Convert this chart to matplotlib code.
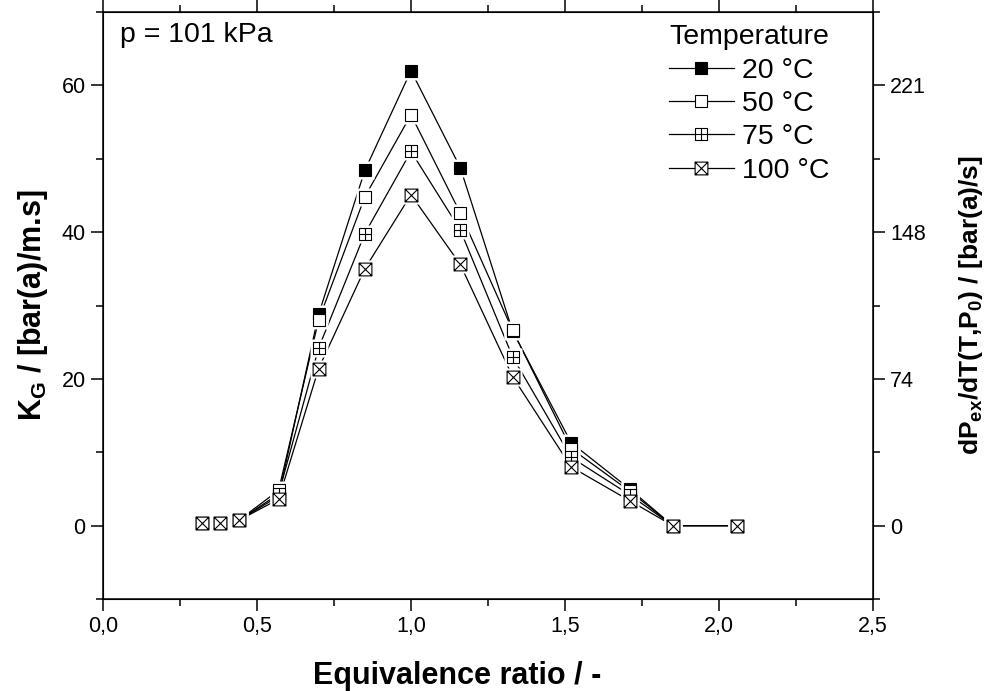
import matplotlib
matplotlib.use("Agg")
import matplotlib.pyplot as plt
from matplotlib.path import Path
from matplotlib.lines import Line2D
from matplotlib.ticker import MultipleLocator, FixedLocator, FuncFormatter

plt.rcParams['font.family'] = ['Liberation Sans', 'DejaVu Sans']
plt.rcParams['mathtext.fontset'] = 'custom'
plt.rcParams['mathtext.rm'] = 'Liberation Sans'
plt.rcParams['mathtext.it'] = 'Liberation Sans:italic'
plt.rcParams['mathtext.bf'] = 'Liberation Sans:bold'

# ---- data ----
phi = [0.32, 0.38, 0.44, 0.57, 0.70, 0.85, 1.00, 1.16, 1.33, 1.52, 1.71, 1.85, 2.06]
kg_20 = [0.3, 0.4, 0.7, 4.0, 28.8, 48.4, 62.0, 48.8, 26.5, 11.3, 5.0, 0.0, 0.0]
kg_50 = [0.3, 0.4, 0.7, 4.8, 28.0, 44.8, 56.0, 42.6, 26.6, 10.5, 4.7, 0.0, 0.0]
kg_75 = [0.3, 0.4, 0.7, 4.3, 24.2, 39.8, 51.0, 40.3, 23.0, 9.3, 4.2, 0.0, 0.0]
kg_100 = [0.3, 0.4, 0.7, 3.6, 21.4, 35.0, 45.1, 35.6, 20.3, 8.0, 3.4, 0.0, 0.0]
series_labels = ['20 °C', '50 °C', '75 °C', '100 °C']
x_ticks = [0.0, 0.5, 1.0, 1.5, 2.0, 2.5]
y_ticks = [0, 20, 40, 60]
right_tick_labels = ['0', '74', '148', '221']

# ---- markers ----
sq = [(-1, -1), (1, -1), (1, 1), (-1, 1), (-1, -1)]
sq_codes = [Path.MOVETO, Path.LINETO, Path.LINETO, Path.LINETO, Path.CLOSEPOLY]
plus_path = Path(sq + [(0, -1), (0, 1), (-1, 0), (1, 0)],
                 sq_codes + [Path.MOVETO, Path.LINETO, Path.MOVETO, Path.LINETO])
cross_path = Path(sq + [(-1, -1), (1, 1), (-1, 1), (1, -1)],
                  sq_codes + [Path.MOVETO, Path.LINETO, Path.MOVETO, Path.LINETO])
marker_styles = [
    dict(marker='s', mfc='black', mec='black'),
    dict(marker='s', mfc='white', mec='black'),
    dict(marker=plus_path, mfc='white', mec='black'),
    dict(marker=cross_path, mfc='white', mec='black'),
]

fig = plt.figure(figsize=(9.89, 6.91), dpi=100)
ax = fig.add_axes([103/989, 1-599/691, 770/989, 587/691])

MS = 9.2
all_series = [kg_20, kg_50, kg_75, kg_100]
handles = []
for vals, st, lab in zip(all_series, marker_styles, series_labels):
    ax.plot(phi, vals, color='black', lw=0.9, zorder=2)
    ax.plot(phi, vals, ls='none', marker='s', ms=MS + 3.5, mfc='white', mec='none', zorder=3)
    ax.plot(phi, vals, ls='none', ms=MS, mew=0.8, zorder=4, **st)
    handles.append(Line2D([], [], color='black', lw=0.9, ms=MS, mew=0.8, label=lab, **st))

ax.set_xlim(0, 2.5)
ax.set_ylim(-10, 70)
ax.xaxis.set_major_locator(FixedLocator(x_ticks))
ax.xaxis.set_minor_locator(MultipleLocator(0.25))
ax.xaxis.set_major_formatter(FuncFormatter(lambda v, p: f"{v:.1f}".replace('.', ',')))
ax.yaxis.set_major_locator(FixedLocator(y_ticks))
ax.yaxis.set_minor_locator(MultipleLocator(10))

for sp in ax.spines.values():
    sp.set_linewidth(1.1)
ax.tick_params(which='both', direction='out', width=1.1, top=True, labelsize=15.5, pad=4)
ax.tick_params(which='major', length=8.5)
ax.tick_params(which='minor', length=5)

ax2 = ax.twinx()
ax2.set_ylim(-10, 70)
ax2.yaxis.set_major_locator(FixedLocator(y_ticks))
ax2.set_yticklabels(right_tick_labels)
ax2.yaxis.set_minor_locator(MultipleLocator(10))
ax2.tick_params(which='both', direction='out', width=1.1, labelsize=15.5, pad=4)
ax2.tick_params(which='major', length=8.5)
ax2.tick_params(which='minor', length=5)

ax.set_xlabel('Equivalence ratio / -', fontsize=22, fontweight='bold')
ax.xaxis.set_label_coords(0.46, -0.106)
ax.xaxis.label.set_va('top')
ax.set_ylabel(r'$\mathbf{K_G}$ / [bar(a)/m.s]', fontsize=22, fontweight='bold', labelpad=8)
ax2.set_ylabel(r'$\mathbf{dP_{ex}}$/dT(T,$\mathbf{P_0}$) / [bar(a)/s]', fontsize=19,
               fontweight='bold', labelpad=22)

ax.text(0.022, 0.961, 'p = 101 kPa', transform=ax.transAxes, fontsize=20.5,
        ha='left', va='center')

leg = ax.legend(handles=handles, loc='upper center', bbox_to_anchor=(0.8396, 1.0034),
                frameon=False, fontsize=20.5, title='Temperature', title_fontsize=20.5,
                handlelength=2.25, handletextpad=0.3, labelspacing=0.26, borderpad=0,
                numpoints=1)

fig.savefig('out.png', dpi=100)
